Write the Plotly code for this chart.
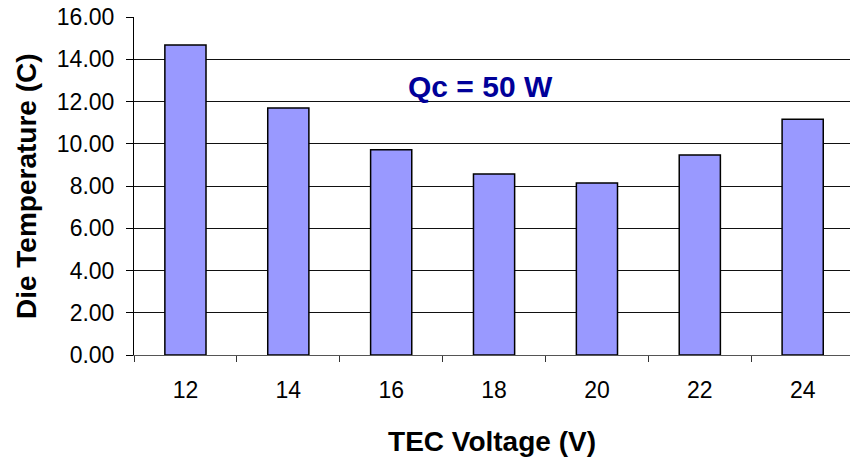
import plotly.graph_objects as go

categories = ["12", "14", "16", "18", "20", "22", "24"]
die_temp = [14.67, 11.69, 9.72, 8.57, 8.14, 9.47, 11.16]
y_ticks = [0, 2, 4, 6, 8, 10, 12, 14, 16]
y_tick_text = ["%.2f" % v for v in y_ticks]

fig = go.Figure()
fig.add_trace(go.Bar(
    x=categories, y=die_temp, width=0.4,
    marker=dict(color="#9999FF", line=dict(color="#000000", width=1.5)),
))

fig.add_annotation(
    text="<b>Qc = 50 W</b>", xref="paper", yref="y", x=0.4846, y=12.73,
    showarrow=False, font=dict(family="Liberation Sans, Arial", size=30, color="#000099"),
)
# y-axis title placed as a rotated annotation for precise positioning
fig.add_annotation(
    text="<b>Die Temperature (C)</b>", xref="paper", yref="paper", x=-0.1508, y=0.5,
    xanchor="center", yanchor="middle", textangle=-90, showarrow=False,
    font=dict(family="Liberation Sans, Arial", size=28, color="#000000"),
)

fig.update_layout(
    width=850, height=458,
    margin=dict(l=134, r=0, t=17, b=103, autoexpand=False),
    plot_bgcolor="white", paper_bgcolor="white",
    showlegend=False,
    font=dict(family="Liberation Sans, Arial", size=23, color="#000000"),
    xaxis=dict(
        type="category", range=[-0.5, 6.46], automargin=False,
        tickson="boundaries", ticks="outside", ticklen=6, tickcolor="#333333",
        showline=True, linecolor="#555555", linewidth=1,
        showgrid=False, ticklabelstandoff=14,
        title=dict(text="<b>TEC Voltage (V)</b>", font=dict(size=28), standoff=29),
    ),
    yaxis=dict(
        range=[0, 16.001], tickvals=y_ticks, ticktext=y_tick_text, automargin=False,
        ticks="outside", ticklen=7, tickcolor="#000000",
        showline=True, linecolor="#000000", linewidth=1,
        showgrid=True, gridcolor="#111111", gridwidth=1,
        zeroline=False, ticklabelstandoff=7, ticklabeloverflow="allow",
    ),
)

fig.write_html("out.html", config={"displayModeBar": False},
               post_script="document.body.style.margin='0';")
